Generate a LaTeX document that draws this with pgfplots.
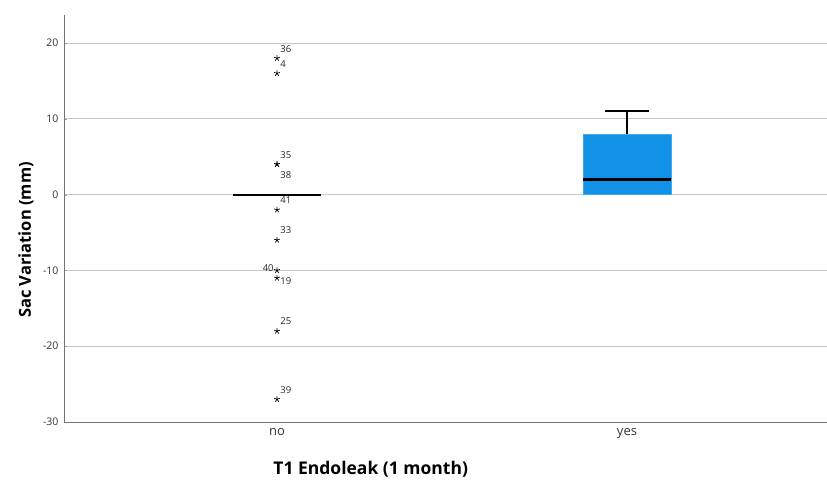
\documentclass[border=0pt]{standalone}
\usepackage{fontspec}
\setmainfont{Open Sans}
\usepackage{pgfplots}
\pgfplotsset{compat=1.18}
\usepgfplotslibrary{statistics}
\definecolor{boxblue}{HTML}{1192E6}
\begin{document}
\begin{tikzpicture}
\begin{axis}[
  scale only axis, width=763pt, height=407pt,
  xmin=0.3914, xmax=2.5714, ymin=-30, ymax=23.7,
  axis x line*=bottom, axis y line*=left,
  axis line style={draw=black!55, line width=0.8pt},
  ytick={-30,-20,-10,0,10,20},
  xtick={1,2}, xticklabels={no,yes},
  xtick style={draw=none},
  ytick style={draw=black!40},
  tick align=inside, major tick length=3pt,
  ymajorgrids, grid style={draw=black!22, line width=0.9pt},
  /pgf/number format/assume math mode=true,
  yticklabel style={font=\fontsize{10.5}{11}\selectfont, text=black!80, xshift=-2pt},
  xticklabel style={font=\fontsize{13}{14}\selectfont, text=black!80, yshift=-3pt},
  xlabel={T1 Endoleak (1 month)},
  xlabel style={font=\bfseries\fontsize{17.5}{18}\selectfont, at={(axis description cs:0.402,0)}, anchor=center, yshift=-47pt},
  ylabel={Sac Variation (mm)},
  every axis y label/.style={at={(axis description cs:-0.0498,0.447)}, rotate=90, anchor=center, font=\bfseries\fontsize{16.5}{17}\selectfont},
  clip=false,
  boxplot/draw direction=y,
  boxplot/every box/.style={fill=boxblue, draw=boxblue!80, line width=0.5pt},
  boxplot/every median/.style={draw=black, line width=2.2pt},
  boxplot/every whisker/.style={draw=black, line width=1.6pt},
]
\addplot[boxplot prepared={draw position=1, lower whisker=0, lower quartile=0, median=0, upper quartile=0, upper whisker=0, box extend=0.25, whisker extend=0.125}] coordinates {};
\addplot[boxplot prepared={draw position=2, lower whisker=0, lower quartile=0, median=2, upper quartile=8, upper whisker=11, box extend=0.25, whisker extend=0.125}] coordinates {};

\addplot[only marks, mark=star, mark size=3pt, black, line width=0.7pt,
  point meta=explicit symbolic, nodes near coords,
  every node near coord/.append style={anchor=west, inner sep=0pt, xshift=3pt, yshift=9.5pt, font=\fontsize{9.5}{10}\selectfont, text=black!85}]
  table[meta=label] {
x y label
1 18 36
1 16 4
1 4 35
1 -2 41
1 -6 33
1 -18 25
1 -27 39
};
\addplot[only marks, mark=star, mark size=3pt, black, line width=0.7pt,
  point meta=explicit symbolic, nodes near coords,
  every node near coord/.append style={anchor=west, inner sep=0pt, xshift=3pt, yshift=-11pt, font=\fontsize{9.5}{10}\selectfont, text=black!85}]
  table[meta=label] {
x y label
1 4 38
};
\addplot[only marks, mark=star, mark size=3pt, black, line width=0.7pt,
  point meta=explicit symbolic, nodes near coords,
  every node near coord/.append style={anchor=east, inner sep=0pt, xshift=-3pt, yshift=2pt, font=\fontsize{9.5}{10}\selectfont, text=black!85}]
  table[meta=label] {
x y label
1 -10 40
};
\addplot[only marks, mark=star, mark size=3pt, black, line width=0.7pt,
  point meta=explicit symbolic, nodes near coords,
  every node near coord/.append style={anchor=west, inner sep=0pt, xshift=3pt, yshift=-3pt, font=\fontsize{9.5}{10}\selectfont, text=black!85}]
  table[meta=label] {
x y label
1 -11 19
};
\end{axis}
\pgfresetboundingbox
\path ([xshift=-64pt,yshift=-59pt]current axis.south west) rectangle ([yshift=15pt]current axis.north east);
\end{tikzpicture}
\end{document}
